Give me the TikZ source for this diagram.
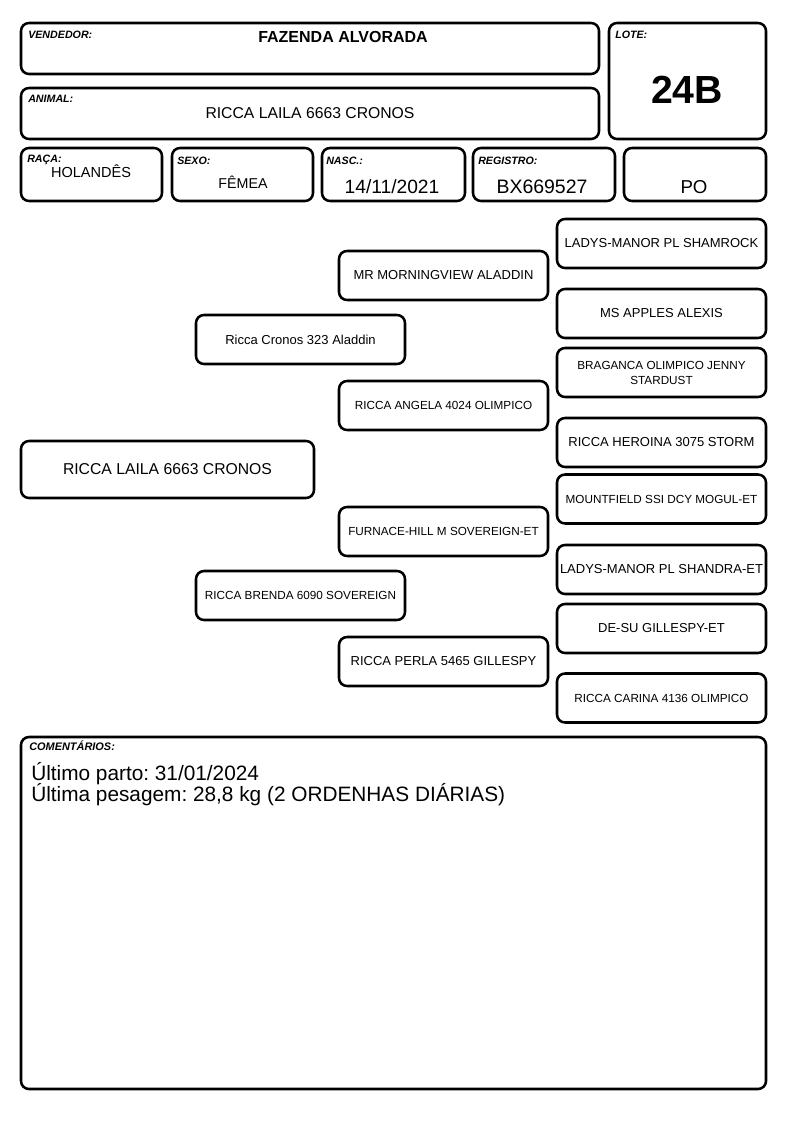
\documentclass[tikz,border=0pt]{standalone}
\usepackage{fontspec}
\setmainfont{Liberation Sans}
\usetikzlibrary{positioning}
\frenchspacing

\begin{document}
\begin{tikzpicture}[x=0.75pt, y=-0.75pt,
    campo/.style={draw, line width=1.9pt, rounded corners=6pt, outer sep=0pt, inner sep=0pt},
    rotulo/.style={anchor=base west, inner sep=0pt, font=\fontsize{8}{9}\selectfont\bfseries\itshape},
    valor/.style={anchor=base, inner sep=0pt},
    ped/.style={campo, minimum width=156.75pt, minimum height=36.75pt, align=center, font=\fontsize{9.75}{11.25}\selectfont},
    pedp/.style={ped, font=\fontsize{8.8}{11.25}\selectfont}]
    \useasboundingbox (0,0) rectangle (794,1123);

    % cabeçalho
    \node[campo, minimum width=433.5pt, minimum height=38.25pt] (vend) at (310,48.5) {};
    \node[campo, minimum width=117.75pt, minimum height=87pt] (lote) at (687.5,81) {};
    \node[campo, minimum width=433.5pt, minimum height=38.25pt] (anim) at (310,113.5) {};
    \node[campo, minimum width=105.75pt, minimum height=39.75pt] (raca) at (91.5,174.5) {};
    \node[campo, minimum width=105.75pt, minimum height=39.75pt] (sexo) at (242.5,174.5) {};
    \node[campo, minimum width=107.25pt, minimum height=39.75pt] (nasc) at (393.5,174.5) {};
    \node[campo, minimum width=106.5pt, minimum height=39.75pt] (reg) at (544,174.5) {};
    \node[campo, minimum width=106.5pt, minimum height=39.75pt] (po) at (695,174.5) {};

    % rótulos
    \node[rotulo] (lvend) at ([shift={(7,16)}]vend.north west) {VENDEDOR:};
    \node[rotulo] (llote) at ([shift={(6,16)}]lote.north west) {LOTE:};
    \node[rotulo] (lanim) at ([shift={(7,15)}]anim.north west) {ANIMAL:};
    \node[rotulo] (lraca) at ([shift={(6,15)}]raca.north west) {RAÇA:};
    \node[rotulo] (lsexo) at ([shift={(5,17)}]sexo.north west) {SEXO:};
    \node[rotulo] (lnasc) at ([shift={(4,17)}]nasc.north west) {NASC.:};
    \node[rotulo] (lreg) at ([shift={(5,17)}]reg.north west) {REGISTRO:};

    % valores
    \node[valor, font=\fontsize{12}{14}\selectfont\bfseries] (tvend) at (343,43) {FAZENDA ALVORADA};
    \node[valor, font=\fontsize{11.8}{14}\selectfont] (tanim) at (310,119) {RICCA LAILA 6663 CRONOS};
    \node[valor, font=\fontsize{29.4}{32}\selectfont\bfseries] (tlote) at (687,104) {24B};
    \node[valor, font=\fontsize{10.9}{13}\selectfont] (traca) at (91,178) {HOLANDÊS};
    \node[valor, font=\fontsize{10.7}{13}\selectfont] (tsexo) at (243,189) {FÊMEA};
    \node[valor, font=\fontsize{14.4}{16}\selectfont] (tnasc) at (392,194) {14/11/2021};
    \node[valor, font=\fontsize{14.6}{16}\selectfont] (treg) at (542,194) {BX669527};
    \node[valor, font=\fontsize{14}{16}\selectfont] (tpo) at (694,193.5) {PO};

    % genealogia
    \node[ped, minimum width=219.75pt, minimum height=42.75pt, font=\fontsize{11.8}{13}\selectfont] (animal) at (167.5,469.5) {RICCA LAILA 6663 CRONOS};
    \node[ped] (pai) at (300.5,339.5) {Ricca Cronos 323 Aladdin};
    \node[pedp] (mae) at (300.5,595.5) {RICCA BRENDA 6090 SOVEREIGN};
    \node[ped] (avopp) at (443.5,275.5) {MR MORNINGVIEW ALADDIN};
    \node[pedp] (avopm) at (443.5,405.5) {RICCA ANGELA 4024 OLIMPICO};
    \node[pedp] (avomp) at (443.5,531.5) {FURNACE-HILL M SOVEREIGN-ET};
    \node[ped] (avomm) at (443.5,661.5) {RICCA PERLA 5465 GILLESPY};
    \node[ped] (bis1) at (661.5,243.5) {LADYS-MANOR PL SHAMROCK};
    \node[ped] (bis2) at (661.5,313.5) {MS APPLES ALEXIS};
    \node[pedp] (bis3) at (661.5,372.5) {BRAGANCA OLIMPICO JENNY\\STARDUST};
    \node[ped] (bis4) at (661.5,442.5) {RICCA HEROINA 3075 STORM};
    \node[pedp] (bis5) at (661.5,499) {MOUNTFIELD SSI DCY MOGUL-ET};
    \node[ped] (bis6) at (661.5,569.5) {LADYS-MANOR PL SHANDRA-ET};
    \node[ped] (bis7) at (661.5,628.5) {DE-SU GILLESPY-ET};
    \node[pedp] (bis8) at (661.5,698) {RICCA CARINA 4136 OLIMPICO};

    % comentários
    \node[campo, minimum width=558.75pt, minimum height=264pt] (coment) at (393.5,913) {};
    \node[rotulo, font=\fontsize{8.2}{9}\selectfont\bfseries\itshape] (lcoment) at ([shift={(8,13)}]coment.north west) {COMENTÁRIOS:};
    \node[anchor=base west, inner sep=0pt, font=\fontsize{15.6}{17}\selectfont] (obs1) at (31,780) {Último parto: 31/01/2024};
    \node[anchor=base west, inner sep=0pt, font=\fontsize{15.6}{17}\selectfont] (obs2) at (31,801.7) {Última pesagem: 28,8 kg (2 ORDENHAS DIÁRIAS)};
\end{tikzpicture}
\end{document}
